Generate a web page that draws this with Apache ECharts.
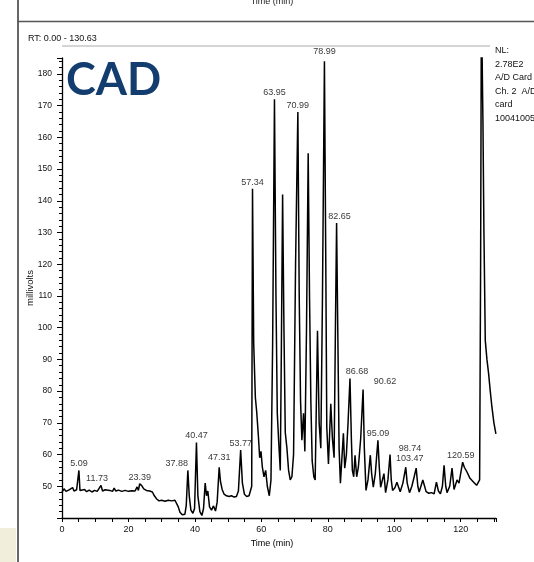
<!DOCTYPE html>
<html>
<head>
<meta charset="utf-8">
<script src="https://cdn.jsdelivr.net/npm/echarts@6/dist/echarts.min.js"></script>
<style>
html,body{margin:0;padding:0;background:#fff;}
#chart{width:534px;height:562px;}
</style>
</head>
<body>
<div id="chart"></div>
<script>
// ---- data ----
const traceTime = [0,0.6,1.2,2,2.6,3.2,3.6,4.4,4.8,5.09,5.4,6,6.8,7.4,8.2,9,9.8,10.6,11.2,11.73,12.2,13,13.6,14.4,15.2,15.7,16.2,17,18,19,20,21,22,22.6,23,23.39,24,24.6,25.4,26.4,27.2,27.8,28.5,29.2,30,31,32,33,34,34.6,35,35.5,36.2,37,37.4,37.88,38.3,38.8,39.4,39.9,40.47,40.9,41.5,42.1,42.6,43.1,43.5,43.9,44.4,45,45.6,46.2,46.7,47.31,47.7,48.2,48.8,49.5,50.3,51,51.8,52.5,53.1,53.77,54.3,54.9,55.6,56.3,56.9,57.1,57.34,57.7,58.2,58.6,59.1,59.5,59.9,60.3,60.8,61.3,61.8,62.4,62.9,63.4,63.95,64.4,64.8,65.2,65.7,66.0,66.4,66.8,67.2,67.7,68.2,68.7,69.2,69.7,70.3,70.99,71.4,71.8,72.2,72.7,73.1,73.6,74.1,74.5,74.9,75.3,75.8,76.2,76.9,77.4,77.9,78.4,78.99,79.4,79.7,80.2,80.9,81.4,81.9,82.3,82.65,83,83.4,83.8,84.7,85.1,85.6,86.1,86.68,87.1,87.4,87.8,88.2,88.7,89.2,89.9,90.62,91,91.5,92.1,92.8,93.2,93.7,94.3,95.09,95.5,95.9,96.9,97.4,98.1,98.74,99.1,99.5,100.2,100.8,101.8,102.6,103.47,103.9,104.6,105.3,106,106.6,107.1,107.5,108.6,109.6,110.4,111.2,112,112.7,113.3,113.9,114.5,115,115.5,115.9,116.7,117.4,118,118.9,119.5,120.59,121.1,121.9,122.8,123.9,124.8,125.4,125.7,126,126.2,126.4,126.7,127,127.4,127.9,128.4,128.9,129.4,130,130.6];
const traceMV = [48.2,49.2,48.4,48.8,48.3,49.6,48.5,48.9,48.6,55,48.7,48.4,49,48.3,48.8,48.2,48.7,48.4,48.9,50.3,48.5,48.9,48.3,48.7,48.4,49.4,48.5,48.8,48.4,48.7,48.4,48.6,48.5,49.8,48.7,50.8,50.2,49.2,48.7,48.5,48.2,47,46,45.4,45.6,45.3,45.6,45.4,45.6,45.2,43.5,41.8,41,41.2,44,55,47,42.5,41.5,43,63.8,47,42,40.8,43,51,47,48.5,43.5,42.5,43.8,42.2,45,56,51.5,49,47.5,47,46.8,47,46.6,46.8,48.5,61.4,51,47.5,46.8,47,46.5,50,143.8,95,78,73.5,66,59,61,56,53,55,50,47,52,95,172,110,73,64.5,55,90,142,100,67,62,55,52,53,60,120,168,110,77,64.5,73,61,100,155,110,77,58,53,52,99,70,62,110,184,120,68.6,57,76,65,59,100,133,100,62,51,66.7,55.7,60,70,84,65,55,53,59.8,53,56,65,80.5,62,48.7,52,59.8,54,49.7,54,64.5,56,49.7,54,48,52,60,52,48.7,49.5,51.3,48.3,51,56,51,48,50,53,55.7,50,48.2,52,48.3,47.8,48,47.6,51.3,48.5,47.6,50,56.6,50,48,50,55.7,49,52,51,57.6,56,54.5,52.5,51.3,50.3,49.7,52,120,192,190,165,130,96,90,85.6,80,75,70,66.5];

const peakTimes   = [5.09,11.73,23.39,37.88,40.47,47.31,53.77,57.34,63.95,70.99,78.99,82.65,86.68,90.62,95.09,98.74,103.47,120.59];
const peakHeights = [55,50.3,50.8,55,63.8,56,61.4,143.8,172,168,184,133,84,80.5,64.5,60,56,57.6];

const yTicks = {min: 40, max: 185, step: 10};
const xTicks = {min: 0, max: 130.63, step: 20};

// ---- label styling (offsets in px, not data) ----
const labelShift = {
  '11.73': [-4, 0], '37.88': [-11, 0], '47.31': [0, -3], '78.99': [0, -3],
  '82.65': [3, 0], '86.68': [7, 0], '90.62': [22, -2], '98.74': [20, 0],
  '103.47': [4, -2], '120.59': [-2, 0]
};

const font = 'Liberation Sans, Arial, sans-serif';
const chart = echarts.init(document.getElementById('chart'));

const lineData = traceTime.map((t, i) => [t, traceMV[i]]);
const peakData = peakTimes.map((t, i) => {
  const key = t.toFixed(2);
  return {
    value: [t, peakHeights[i]],
    label: { offset: labelShift[key] || [0, 0] }
  };
});

chart.setOption({
  backgroundColor: '#ffffff',
  animation: false,
  grid: { left: 62, right: 38, top: 58, bottom: 44 },
  xAxis: {
    type: 'value', min: xTicks.min, max: xTicks.max, interval: xTicks.step,
    name: 'Time (min)', nameLocation: 'middle', nameGap: 20,
    nameTextStyle: { fontFamily: font, fontSize: 9, color: '#000', padding: [0, 14, 0, 0] },
    axisLine: { lineStyle: { color: '#000', width: 1.3 } },
    axisTick: { show: true, length: 4, lineStyle: { color: '#000' } },
    minorTick: { show: true, splitNumber: 4, length: 4, lineStyle: { color: '#000' } },
    axisLabel: { fontFamily: font, fontSize: 9, color: '#111', margin: 7, showMaxLabel: false },
    splitLine: { show: false }
  },
  yAxis: {
    type: 'value', min: yTicks.min, max: yTicks.max, interval: yTicks.step,
    name: 'millivolts', nameLocation: 'middle', nameGap: 27, nameRotate: 90,
    nameMoveOverlap: false,
    nameTextStyle: { fontFamily: font, fontSize: 9.5, color: '#111' },
    axisLine: { lineStyle: { color: '#000', width: 1.3 } },
    axisTick: { show: true, length: 5, lineStyle: { color: '#000' } },
    minorTick: { show: true, splitNumber: 5, length: 3, lineStyle: { color: '#000' } },
    axisLabel: { fontFamily: font, fontSize: 8.5, color: '#111', margin: 10, showMinLabel: false, showMaxLabel: false },
    splitLine: { show: false }
  },
  series: [
    {
      type: 'line', data: lineData, symbol: 'none', smooth: false, clip: true,
      lineStyle: { color: '#000', width: 1.5 }
    },
    {
      type: 'scatter', data: peakData, symbolSize: 0, silent: true,
      label: {
        show: true, position: 'top', distance: 2,
        formatter: p => p.value[0].toFixed(2),
        fontFamily: font, fontSize: 9, color: '#000'
      }
    }
  ],
  graphic: [
    { type: 'rect', shape: { x: 0, y: 528, width: 16, height: 34 }, style: { fill: '#f2eedc' }, silent: true },
    { type: 'line', shape: { x1: 18, y1: 0, x2: 18, y2: 562 }, style: { stroke: '#666', lineWidth: 2 }, silent: true },
    { type: 'line', shape: { x1: 18, y1: 21.5, x2: 534, y2: 21.5 }, style: { stroke: '#555', lineWidth: 1.5 }, silent: true },
    { type: 'line', shape: { x1: 62, y1: 46, x2: 490, y2: 46 }, style: { stroke: '#aaa', lineWidth: 1 }, silent: true },
    { type: 'text', x: 272, y: 2, style: { text: 'Time (min)', fontFamily: font, fontSize: 9, fill: '#222', textAlign: 'center', textVerticalAlign: 'middle' }, silent: true },
    { type: 'text', x: 28, y: 39, style: { text: 'RT: 0.00 - 130.63', fontFamily: font, fontSize: 9, fill: '#111', textAlign: 'left', textVerticalAlign: 'middle' }, silent: true },
    { type: 'text', x: 66, y: 80, style: { text: 'CAD', fontFamily: 'Lato, Open Sans, sans-serif', fontWeight: 'bold', fontSize: 45, fill: '#133d6e', textAlign: 'left', textVerticalAlign: 'middle' }, silent: true },
    { type: 'text', x: 495, y: 44, style: { text: 'NL:\n2.78E2\nA/D Card\nCh. 2  A/D\ncard\n10041005', fontFamily: font, fontSize: 9, lineHeight: 13.5, fill: '#111', textAlign: 'left', textVerticalAlign: 'top' }, silent: true }
  ]
});
</script>
</body>
</html>
